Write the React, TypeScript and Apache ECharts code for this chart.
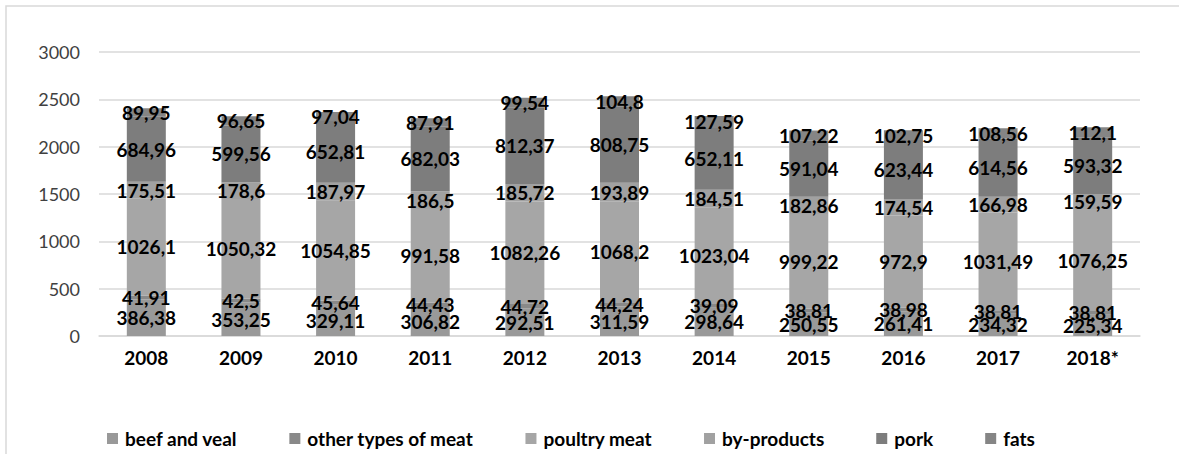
import React, { useEffect, useRef } from "react";
import * as echarts from "echarts";

const years = ["2008", "2009", "2010", "2011", "2012", "2013", "2014", "2015", "2016", "2017", "2018*"];

const beefAndVeal = [386.38, 353.25, 329.11, 306.82, 292.51, 311.59, 298.64, 250.55, 261.41, 234.32, 225.34];
const otherMeat = [41.91, 42.5, 45.64, 44.43, 44.72, 44.24, 39.09, 38.81, 38.98, 38.81, 38.81];
const poultryMeat = [1026.1, 1050.32, 1054.85, 991.58, 1082.26, 1068.2, 1023.04, 999.22, 972.9, 1031.49, 1076.25];
const byProducts = [175.51, 178.6, 187.97, 186.5, 185.72, 193.89, 184.51, 182.86, 174.54, 166.98, 159.59];
const pork = [684.96, 599.56, 652.81, 682.03, 812.37, 808.75, 652.11, 591.04, 623.44, 614.56, 593.32];
const fats = [89.95, 96.65, 97.04, 87.91, 99.54, 104.8, 127.59, 107.22, 102.75, 108.56, 112.1];

const seriesDefs = [
  { name: "beef and veal", data: beefAndVeal, color: "#999999" },
  { name: "other types of meat", data: otherMeat, color: "#898989" },
  { name: "poultry meat", data: poultryMeat, color: "#a6a6a6" },
  { name: "by-products", data: byProducts, color: "#a1a1a1" },
  { name: "pork", data: pork, color: "#7d7d7d" },
  { name: "fats", data: fats, color: "#858585" },
];

const FONT = "Lato, 'Open Sans', sans-serif";

export default function App() {
  const ref = useRef<HTMLDivElement>(null);

  useEffect(() => {
    document.body.style.margin = "0";
    if (!ref.current) return;
    const chart = echarts.init(ref.current, null, { renderer: "svg" });
    chart.setOption({
      animation: false,
      backgroundColor: "#ffffff",
      textStyle: { fontFamily: FONT },
      graphic: [
        {
          type: "rect",
          shape: { x: 6, y: 6, width: 1300, height: 600 },
          style: { fill: "none", stroke: "#d9d9d9", lineWidth: 1.5 },
          silent: true,
          z: -1,
        },
      ],
      grid: { left: 99, right: 39, top: 52, bottom: 118, containLabel: false },
      legend: {
        left: 102,
        top: 424,
        icon: "rect",
        itemWidth: 11,
        itemHeight: 11,
        itemGap: 52,
        textStyle: {
          fontFamily: FONT,
          fontSize: 19,
          fontWeight: "bold",
          color: "#000000",
          padding: [0, 0, 0, 2],
        },
        data: seriesDefs.map((s) => s.name),
      },
      xAxis: {
        type: "category",
        data: years,
        axisLine: { lineStyle: { color: "#d9d9d9", width: 1.5 } },
        axisTick: { show: false },
        axisLabel: {
          margin: 12,
          fontFamily: FONT,
          fontSize: 19,
          fontWeight: "bold",
          color: "#000000",
        },
      },
      yAxis: {
        type: "value",
        min: 0,
        max: 3000,
        interval: 500,
        axisLine: { show: false },
        axisTick: { show: false },
        splitLine: { lineStyle: { color: "#d9d9d9", width: 1.5 } },
        axisLabel: {
          margin: 19,
          fontFamily: FONT,
          fontSize: 18,
          color: "#404040",
          formatter: (v: number) => String(v),
        },
      },
      series: seriesDefs.map((s) => ({
        name: s.name,
        type: "bar",
        stack: "total",
        data: s.data,
        barWidth: 39,
        itemStyle: { color: s.color },
        label: {
          show: true,
          position: "inside",
          fontFamily: FONT,
          fontSize: 19,
          fontWeight: "bold",
          color: "#000000",
          formatter: (p: any) => String(p.value).replace(".", ","),
        },
      })),
    });
    return () => chart.dispose();
  }, []);

  return <div ref={ref} style={{ width: 1179, height: 454 }} />;
}
